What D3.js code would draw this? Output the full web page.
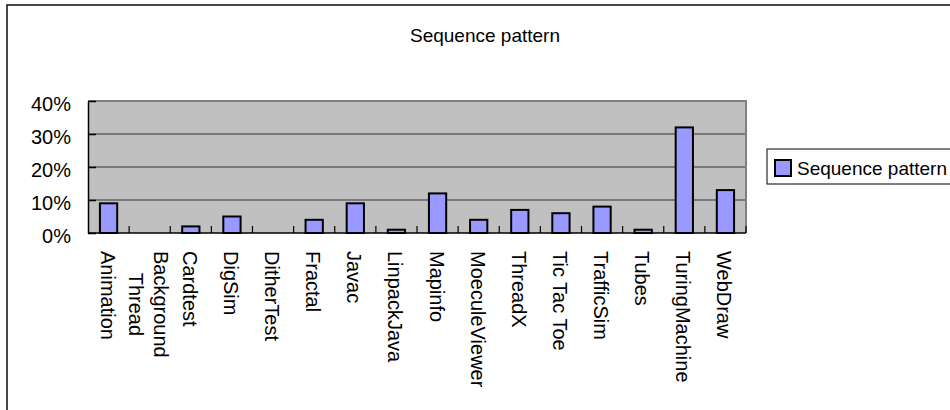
<!DOCTYPE html>
<html>
<head>
<meta charset="utf-8">
<script src="https://cdn.jsdelivr.net/npm/d3@7"></script>
<style>
  html, body { margin: 0; padding: 0; background: #fff; }
  svg { display: block; font-family: "Liberation Sans", Arial, sans-serif; }
</style>
</head>
<body>
<svg id="chart" width="950" height="410"></svg>
<script>
// Benchmark names (a "\n" marks a wrapped label) and the share of each that follows the sequence pattern
const categories = [
  "Animation", "Background\nThread", "Cardtest", "DigSim", "DitherTest", "Fractal", "Javac",
  "LinpackJava", "Mapinfo", "MoeculeViewer", "ThreadX", "Tic Tac Toe", "TrafficSim",
  "Tubes", "TuringMachine", "WebDraw"
];
const sequencePattern = [0.09, 0, 0.02, 0.05, 0, 0.04, 0.09, 0.01, 0.12, 0.04, 0.07, 0.06, 0.08, 0.01, 0.32, 0.13];
const yTicks = [0, 0.1, 0.2, 0.3, 0.4];
const seriesName = "Sequence pattern";
const chartTitle = "Sequence pattern";

const svg = d3.select("#chart");
const fs = 19;       // title and legend
const fsAxis = 20;   // tick and category labels
const plot = { left: 88, right: 746, top: 101, bottom: 233 };

// outer chart frame
svg.append("rect")
  .attr("x", 7).attr("y", 5).attr("width", 1000).attr("height", 1000)
  .attr("fill", "#fff").attr("stroke", "#1a1a1a").attr("stroke-width", 1.6);

const x = d3.scaleBand()
  .domain(categories)
  .range([plot.left, plot.right])
  .paddingInner(0.58)
  .paddingOuter(0.29);

const y = d3.scaleLinear().domain([0, 0.4]).range([plot.bottom, plot.top]);

// plot background
svg.append("rect")
  .attr("x", plot.left).attr("y", plot.top)
  .attr("width", plot.right - plot.left).attr("height", plot.bottom - plot.top)
  .attr("fill", "#c0c0c0");

// horizontal gridlines
svg.append("g").selectAll("line")
  .data(yTicks.filter(t => t > 0 && t < 0.4))
  .join("line")
  .attr("x1", plot.left).attr("x2", plot.right)
  .attr("y1", d => y(d)).attr("y2", d => y(d))
  .attr("stroke", "#333").attr("stroke-width", 1);

// top and right frame of the plot area
svg.append("path")
  .attr("d", `M${plot.left},${y(0.4)}H${plot.right}V${plot.bottom}`)
  .attr("fill", "none").attr("stroke", "#808080").attr("stroke-width", 2);

// bars
svg.append("g").selectAll("rect")
  .data(categories.map((c, i) => ({ c, v: sequencePattern[i] })))
  .join("rect")
  .attr("x", d => x(d.c))
  .attr("y", d => y(d.v))
  .attr("width", x.bandwidth())
  .attr("height", d => y(0) - y(d.v))
  .attr("fill", "#9999ff")
  .attr("stroke", "#000")
  .attr("stroke-width", 2);

// y axis
const yAxis = d3.axisLeft(y)
  .tickValues(yTicks)
  .tickFormat(d3.format(".0%"))
  .tickSizeInner(-8)
  .tickSizeOuter(0)
  .tickPadding(17);
const gy = svg.append("g").attr("transform", `translate(${plot.left},0)`).call(yAxis);
gy.select(".domain").attr("stroke", "#000").attr("stroke-width", 1.5);
gy.selectAll(".tick line").attr("stroke", "#000").attr("stroke-width", 1.5);
gy.selectAll(".tick text")
  .attr("font-size", fsAxis).attr("fill", "#000")
  .attr("font-family", "'Liberation Sans', Arial, sans-serif")
  .attr("dy", "0.45em");

// x axis baseline and category separators
const step = x.step();
const gap = (step - x.bandwidth()) / 2;
const bounds = categories.map(c => x(c) - gap).concat([x(categories[categories.length - 1]) + x.bandwidth() + gap]);
svg.append("line")
  .attr("x1", plot.left).attr("x2", plot.right)
  .attr("y1", y(0)).attr("y2", y(0))
  .attr("stroke", "#000").attr("stroke-width", 1.5);
svg.append("g").selectAll("line")
  .data(bounds.slice(1))
  .join("line")
  .attr("x1", d => d).attr("x2", d => d)
  .attr("y1", y(0) - 7).attr("y2", y(0))
  .attr("stroke", "#000").attr("stroke-width", 1.2);

// rotated category labels
const lh = 1.25 * fsAxis;
const labels = svg.append("g").selectAll("text")
  .data(categories)
  .join("text")
  .attr("font-size", fsAxis)
  .attr("fill", "#000")
  .attr("transform", d => {
    const n = d.split("\n").length;
    const cx = x(d) + x.bandwidth() / 2 + (n - 1) * lh / 2 - 0.4 * fsAxis;
    return `translate(${cx},251) rotate(90)`;
  });
labels.each(function(d) {
  const t = d3.select(this);
  const lines = d.split("\n");
  const spans = lines.map((l, i) => t.append("tspan").attr("x", 0).attr("y", i * lh).text(l));
  const lens = spans.map(s => s.node().getComputedTextLength());
  const maxLen = d3.max(lens);
  spans.forEach((s, i) => s.attr("x", (maxLen - lens[i]) / 2));
});

// title
svg.append("text")
  .attr("x", 485).attr("y", 42)
  .attr("text-anchor", "middle")
  .attr("font-size", fs).attr("fill", "#000")
  .text(chartTitle);

// legend
const lg = svg.append("g");
lg.append("rect")
  .attr("x", 767).attr("y", 149).attr("width", 200).attr("height", 35)
  .attr("fill", "#fff").attr("stroke", "#000").attr("stroke-width", 1);
lg.append("rect")
  .attr("x", 775).attr("y", 160).attr("width", 16).attr("height", 16)
  .attr("fill", "#9999ff").attr("stroke", "#000").attr("stroke-width", 2);
lg.append("text")
  .attr("x", 797).attr("y", 174.5)
  .attr("font-size", fs).attr("fill", "#000")
  .text(seriesName);
</script>
</body>
</html>
